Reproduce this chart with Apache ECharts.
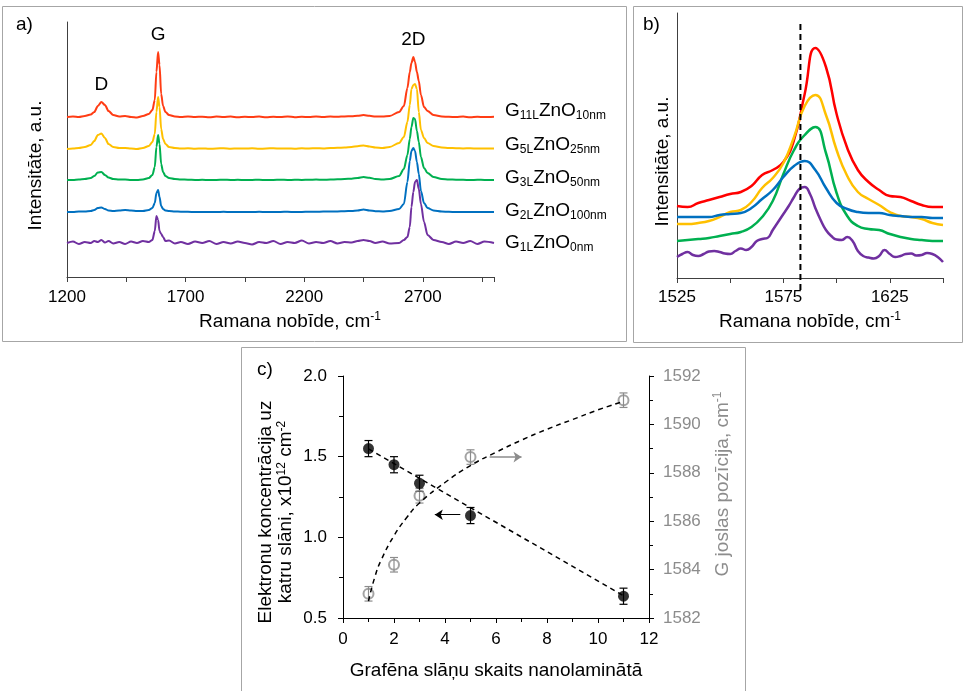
<!DOCTYPE html>
<html>
<head>
<meta charset="utf-8">
<title>Ramana spektri</title>
<script src="https://cdn.jsdelivr.net/npm/echarts@6/dist/echarts.min.js"></script>
<style>
  html, body { margin: 0; padding: 0; background: #fff; }
  #chart { width: 965px; height: 691px; }
</style>
</head>
<body>
<div id="chart"></div>
<script>
// a) pilnie Ramana spektri (nobīde, cm-1)
var aX = [1200, 1225, 1250, 1275, 1300, 1315, 1330, 1345, 1360, 1375,
          1395, 1420, 1445, 1470, 1495, 1520, 1545, 1560, 1570, 1577,
          1584, 1590, 1597, 1605, 1615, 1630, 1655, 1680, 1710, 1740,
          1770, 1800, 1830, 1860, 1890, 1920, 1950, 1980, 2010, 2040,
          2070, 2100, 2130, 2160, 2190, 2220, 2250, 2280, 2310, 2340,
          2370, 2400, 2425, 2450, 2475, 2500, 2530, 2560, 2600, 2620,
          2635, 2645, 2652, 2660, 2667, 2675, 2683, 2692, 2705, 2720,
          2745, 2780, 2810, 2840, 2870, 2900, 2930, 2960, 3000];
var aG11 = [160, 160.5, 160, 161, 162.5, 165, 171, 175, 172, 166,
            162, 160.5, 161, 160, 159.5, 161, 163, 167, 177, 205,
            225, 212, 183, 171, 165, 162, 160.5, 160, 160.5, 160,
            160.3, 159.8, 160.4, 160, 160.5, 159.7, 160.2, 160, 160.4, 159.8,
            160.2, 160, 160.5, 159.8, 160.2, 160, 160.4, 160, 160.5, 160.2,
            160.6, 160.8, 161.2, 162, 161.2, 160.5, 160.5, 161, 165, 171,
            189, 205, 214, 220, 215, 205, 196, 182, 170, 166,
            162, 160.5, 160.2, 160, 160.4, 159.8, 160.2, 160, 160.3];
var aG5 = [128, 128.5, 129, 130, 132, 136, 142, 143.5, 139, 133,
           130, 129, 129, 128.5, 128, 129, 131, 135, 143, 165,
           180, 170, 148, 138, 133, 130, 129, 128.5, 128.7, 128.3,
           128.6, 128.2, 128.5, 128.8, 128.3, 128.6, 128.4, 128.7, 128.2, 128.5,
           128.8, 128.4, 128.6, 128.3, 128.7, 128.5, 128.8, 128.6, 129, 129.2,
           129.5, 130, 130.8, 131.5, 130.5, 129.5, 129, 130, 134, 140,
           155, 172, 188, 192, 193, 188, 165, 147, 139, 134,
           131, 129.5, 129, 128.8, 128.6, 128.7, 128.5, 128.6, 128.4];
var aG3 = [97, 97, 97.5, 98, 99, 101, 104.5, 105, 102, 99.5,
           98, 97.5, 97.5, 97, 97, 97.5, 99, 102, 110, 130,
           142, 133, 113, 105, 101, 99, 98, 97.5, 97.3, 97,
           97.2, 96.9, 97.1, 97.3, 97, 97.2, 96.9, 97.1, 97.2, 97,
           97.1, 97.3, 97, 97.2, 97.1, 97.3, 97.4, 97.2, 97.5, 97.7,
           98, 98.3, 99, 100, 99.2, 98, 97.6, 98, 101, 108,
           122, 138, 150, 159, 158, 146, 135, 120, 109, 104,
           100, 98, 97.5, 97.3, 97.2, 97, 97.2, 97.1, 97];
var aG2 = [65, 65, 65.5, 65.5, 66, 67, 69, 69.5, 68, 66.5,
           66, 66.5, 67, 66.5, 66, 66, 67, 69, 74, 84,
           87, 80, 71, 68, 66.5, 66, 65.5, 65.3, 65.2, 65,
           65.1, 64.9, 65, 65.2, 65, 64.9, 65.1, 65, 65.2, 65,
           65, 65.1, 65.2, 65, 65.1, 65.3, 65.2, 65.4, 65.5, 65.6,
           65.8, 66, 66.5, 67.5, 66.5, 65.8, 65.6, 66, 68, 73,
           95, 116, 126, 129, 126, 115, 103, 86, 74, 69,
           66.5, 65.5, 65.2, 65, 65.1, 64.9, 65.1, 65, 65];
var aG1 = [34, 35.5, 33, 35, 34, 36, 35, 37, 34.5, 36,
           33.5, 35, 33, 35.5, 34, 36, 35, 37, 46, 61,
           57, 46, 43, 40, 36, 36.5, 33.5, 35, 33, 35.5,
           34, 36, 33, 35, 33.5, 35.5, 34, 32.5, 35, 34,
           36, 33, 35, 34, 36.5, 33.5, 35, 34, 36, 33.5,
           35, 34.5, 36, 37, 36, 34, 35.5, 33.5, 34, 37,
           40, 50, 70, 85, 95, 97, 88, 73, 55, 42,
           37, 35, 33, 35.5, 34, 36, 33, 35.5, 34];
var aTickLabels = [1200, 1700, 2200, 2700];
var sampleNames = ['G{s|11L}ZnO{s|10nm}', 'G{s|5L}ZnO{s|25nm}', 'G{s|3L}ZnO{s|50nm}',
                   'G{s|2L}ZnO{s|100nm}', 'G{s|1L}ZnO{s|0nm}'];
var peakNames = ['D', 'G', '2D'];
var peakX = [1345, 1584, 2660];

// b) G joslas tuvplāns
var bX = [1525, 1530, 1535, 1540, 1545, 1550, 1555, 1560, 1565, 1570, 1575, 1580, 1585,
          1590, 1595, 1600, 1605, 1610, 1615, 1620, 1625, 1630, 1635, 1640, 1645, 1650];
var bG11 = [72, 71, 75, 78, 81, 84, 86, 92, 103, 108, 116, 138, 184,
            230, 211, 164, 130, 108, 96, 88, 82, 81, 77, 73, 71, 71];
var bG5 = [54, 54, 55, 57, 61, 66, 68, 76, 90, 100, 115, 141, 172,
           183, 163, 128, 102, 86, 79, 73, 66, 62, 61, 59, 55, 53];
var bG3 = [37, 38, 39, 40, 42, 44, 46, 51, 61, 77, 104, 128, 143,
           151, 125, 85, 62, 52, 49, 48, 44, 41, 39, 38, 37, 37];
var bG2 = [61, 61, 61, 61, 63, 64, 65, 70, 79, 88, 101, 112, 117,
           108, 90, 75, 69, 66, 65, 65, 63, 62, 61, 61, 60, 60];
var bXFine = [1525, 1527.5, 1530, 1532.5, 1535, 1537.5, 1540, 1542.5, 1545, 1547.5,
              1550, 1552.5, 1555, 1557.5, 1560, 1562.5, 1565, 1567.5, 1570, 1572.5,
              1575, 1577.5, 1580, 1582.5, 1585, 1587.5, 1590, 1592.5, 1595, 1597.5,
              1600, 1602.5, 1605, 1607.5, 1610, 1612.5, 1615, 1617.5, 1620, 1622.5,
              1625, 1627.5, 1630, 1632.5, 1635, 1637.5, 1640, 1642.5, 1645, 1647.5, 1650];
var bG1 = [21, 24, 26, 23, 22, 24, 26.5, 27, 26, 24.5,
           24, 27, 29.5, 28, 31, 37, 39, 40, 48, 56,
           64, 72, 81, 89, 91, 84, 70, 58, 48, 42,
           38.5, 38, 41, 37, 27, 22, 20.5, 19.5, 22, 28,
           24, 21, 22, 24, 24.5, 22.5, 23, 25, 24, 21, 16];
var bTickLabels = [1525, 1575, 1625];
var gRefLine = [1583, -12, 255];

// c) elektronu koncentrācija un G joslas pozīcija
var layers = [1, 2, 3, 5, 11];
var carrier = [1.55, 1.45, 1.335, 1.135, 0.635];
var carrierErr = [0.05, 0.05, 0.05, 0.05, 0.05];
var gPos = [1583.0, 1584.2, 1587.05, 1588.65, 1591.0];
var gPosErr = [0.3, 0.3, 0.3, 0.3, 0.3];
var carrierFitX = [1, 11];
var carrierFitY = [1.548, 0.638];
var gFitX = [1, 1.25, 1.5, 2, 2.5, 3, 4, 5, 6, 7, 8, 9, 10, 11];
var gFitY = [1582.7, 1583.7, 1584.4, 1585.4, 1586.15, 1586.75, 1587.6, 1588.3,
             1588.85, 1589.35, 1589.8, 1590.2, 1590.6, 1590.95];

var aColors = ['#ff3c14', '#ffc000', '#00b050', '#0070c0', '#7030a0'];
var bColors = ['#ff0000', '#ffc000', '#00b050', '#0070c0', '#7030a0'];
var labelShift = [-6, -4, -2.5, -1.5, 0];
var FONT = 'Liberation Sans, Arial, sans-serif';
var GREY = '#8c8c8c';

function zip(xs, ys) {
  return xs.map(function (x, i) { return [x, ys[i]]; });
}

var supRich = { sup: { fontSize: 12, lineHeight: 12, verticalAlign: 'top', color: '#000' } };

function errorBars(params, api) {
  var x = api.value(0), y = api.value(1), e = api.value(2);
  var top = api.coord([x, y + e]);
  var bot = api.coord([x, y - e]);
  var st = { stroke: api.visual('color'), lineWidth: 1.2 };
  return {
    type: 'group',
    children: [
      { type: 'line', shape: { x1: top[0], y1: top[1], x2: bot[0], y2: bot[1] }, style: st },
      { type: 'line', shape: { x1: top[0] - 4, y1: top[1], x2: top[0] + 4, y2: top[1] }, style: st },
      { type: 'line', shape: { x1: bot[0] - 4, y1: bot[1], x2: bot[0] + 4, y2: bot[1] }, style: st }
    ]
  };
}

var aSpectra = [aG11, aG5, aG3, aG2, aG1];
var bSpectra = [bG11, bG5, bG3, bG2];

var series = [];

aSpectra.forEach(function (ys, i) {
  var s = {
    type: 'line',
    xAxisIndex: 0,
    yAxisIndex: 0,
    data: zip(aX, ys),
    symbol: 'none',
    smooth: 0.3,
    smoothMonotone: 'x',
    lineStyle: { color: aColors[i], width: 2 },
    itemStyle: { color: aColors[i] },
    endLabel: {
      show: true,
      formatter: function () { return sampleNames[i]; },
      distance: 11,
      offset: [0, labelShift[i]],
      color: '#000',
      fontSize: 19,
      lineHeight: 22,
      rich: { s: { fontSize: 12, lineHeight: 12, verticalAlign: 'bottom', color: '#000' } }
    }
  };
  if (i === 0) {
    s.markPoint = {
      symbol: 'rect',
      symbolSize: 0,
      label: { show: true, position: 'top', distance: 8, formatter: '{b}', color: '#000', fontSize: 19 },
      data: peakNames.map(function (n, k) {
        return { name: n, coord: [peakX[k], ys[aX.indexOf(peakX[k])]] };
      })
    };
  }
  series.push(s);
});

bSpectra.forEach(function (ys, i) {
  series.push({
    type: 'line',
    xAxisIndex: 1,
    yAxisIndex: 1,
    data: zip(bX, ys),
    symbol: 'none',
    smooth: 0.5,
    lineStyle: { color: bColors[i], width: 2.5 },
    itemStyle: { color: bColors[i] }
  });
});
series.push({
  type: 'line',
  xAxisIndex: 1,
  yAxisIndex: 1,
  data: zip(bXFine, bG1),
  symbol: 'none',
  smooth: 0.5,
  lineStyle: { color: bColors[4], width: 2.5 },
  itemStyle: { color: bColors[4] }
});
series.push({
  type: 'custom',
  xAxisIndex: 1,
  yAxisIndex: 1,
  data: [gRefLine],
  encode: { x: 0, y: [1, 2] },
  renderItem: function (params, api) {
    var p1 = api.coord([api.value(0), api.value(1)]);
    var p2 = api.coord([api.value(0), api.value(2)]);
    return {
      type: 'line',
      shape: { x1: p1[0], y1: p1[1], x2: p2[0], y2: p2[1] },
      style: { stroke: '#000', lineWidth: 2, lineDash: [6, 4] }
    };
  },
  z: 5
});

// c)
series.push({
  type: 'line', xAxisIndex: 2, yAxisIndex: 3,
  data: zip(gFitX, gFitY), symbol: 'none', smooth: true,
  lineStyle: { color: '#000', width: 1.5, type: [5, 4] }
});
series.push({
  type: 'line', xAxisIndex: 2, yAxisIndex: 2,
  data: zip(carrierFitX, carrierFitY), symbol: 'none',
  lineStyle: { color: '#000', width: 1.5, type: [5, 4] }
});
series.push({
  type: 'custom', xAxisIndex: 2, yAxisIndex: 3,
  data: layers.map(function (x, i) { return [x, gPos[i], gPosErr[i]]; }),
  encode: { x: 0, y: 1 },
  itemStyle: { color: GREY },
  renderItem: errorBars
});
series.push({
  type: 'scatter', xAxisIndex: 2, yAxisIndex: 3,
  data: zip(layers, gPos), symbol: 'circle', symbolSize: 10,
  itemStyle: { color: 'rgba(255,255,255,0)', borderColor: GREY, borderWidth: 2 },
  markLine: {
    silent: true, symbol: ['none', 'arrow'], symbolSize: 8,
    label: { show: false },
    lineStyle: { color: GREY, width: 1.5, type: 'solid' },
    data: [[{ coord: [5.75, 1588.65] }, { coord: [7.0, 1588.65] }]]
  }
});
series.push({
  type: 'custom', xAxisIndex: 2, yAxisIndex: 2,
  data: layers.map(function (x, i) { return [x, carrier[i], carrierErr[i]]; }),
  encode: { x: 0, y: 1 },
  itemStyle: { color: '#000' },
  renderItem: errorBars
});
series.push({
  type: 'scatter', xAxisIndex: 2, yAxisIndex: 2,
  data: zip(layers, carrier), symbol: 'circle', symbolSize: 11,
  itemStyle: { color: '#000' },
  markLine: {
    silent: true, symbol: ['none', 'arrow'], symbolSize: 8,
    label: { show: false },
    lineStyle: { color: '#000', width: 1, type: 'solid' },
    data: [[{ coord: [4.6, 1.14] }, { coord: [3.6, 1.14] }]]
  }
});

var axisGrey = '#404040';

var option = {
  animation: false,
  backgroundColor: '#fff',
  textStyle: { fontFamily: FONT },
  grid: [
    { left: 67, top: 22, width: 427, height: 255, outerBoundsMode: 'none' },
    { left: 677, top: 13, width: 266, height: 265, outerBoundsMode: 'none' },
    { left: 343, top: 376, width: 306, height: 242, outerBoundsMode: 'none' }
  ],
  xAxis: [
    {
      gridIndex: 0, type: 'value', min: 1200, max: 3000, interval: 250,
      axisLine: { lineStyle: { color: axisGrey } },
      axisTick: { length: 5, lineStyle: { color: axisGrey } },
      splitLine: { show: false },
      axisLabel: {
        fontSize: 17, color: '#000', margin: 12, showMinLabel: true,
        formatter: function (v) { return aTickLabels.indexOf(v) >= 0 ? String(v) : ''; }
      },
      name: 'Ramana nobīde, cm{sup|-1}', nameLocation: 'middle', nameGap: 34,
      nameTextStyle: { fontSize: 19, color: '#000', lineHeight: 22, padding: [0, 0, 0, 19], rich: supRich }
    },
    {
      gridIndex: 1, type: 'value', min: 1525, max: 1650, interval: 25,
      axisLine: { lineStyle: { color: axisGrey } },
      axisTick: { length: 5, lineStyle: { color: axisGrey } },
      splitLine: { show: false },
      axisLabel: {
        fontSize: 17, color: '#000', margin: 11, showMinLabel: true,
        formatter: function (v) { return bTickLabels.indexOf(v) >= 0 ? String(v) : ''; }
      },
      name: 'Ramana nobīde, cm{sup|-1}', nameLocation: 'middle', nameGap: 33,
      nameTextStyle: { fontSize: 19, color: '#000', lineHeight: 22, rich: supRich }
    },
    {
      gridIndex: 2, type: 'value', min: 0, max: 12, interval: 2,
      axisLine: { lineStyle: { color: '#000' } },
      axisTick: { length: 5, lineStyle: { color: '#000' } },
      minorTick: { show: true, splitNumber: 2, length: 4, lineStyle: { color: '#000' } },
      splitLine: { show: false },
      axisLabel: { fontSize: 17, color: '#000', margin: 13, showMinLabel: true, showMaxLabel: true },
      name: 'Grafēna slāņu skaits nanolaminātā', nameLocation: 'middle', nameGap: 43,
      nameTextStyle: { fontSize: 19, color: '#000' }
    }
  ],
  yAxis: [
    {
      gridIndex: 0, type: 'value', min: 0, max: 255,
      axisLine: { show: true, lineStyle: { color: axisGrey } },
      axisTick: { show: false }, axisLabel: { show: false }, splitLine: { show: false },
      name: 'Intensitāte, a.u.', nameLocation: 'middle', nameGap: 22, nameRotate: 90,
      nameTextStyle: { fontSize: 19, color: '#000', padding: [0, 32, 0, 0] }
    },
    {
      gridIndex: 1, type: 'value', min: 0, max: 265,
      axisLine: { show: true, lineStyle: { color: axisGrey } },
      axisTick: { show: false }, axisLabel: { show: false }, splitLine: { show: false },
      name: 'Intensitāte, a.u.', nameLocation: 'middle', nameGap: 5, nameRotate: 90,
      nameTextStyle: { fontSize: 19, color: '#000', padding: [0, 32, 0, 0] }
    },
    {
      gridIndex: 2, type: 'value', min: 0.5, max: 2.0, interval: 0.5, position: 'left',
      axisLine: { show: true, lineStyle: { color: '#000' } },
      axisTick: { show: true, length: 5, lineStyle: { color: '#000' } },
      minorTick: { show: true, splitNumber: 2, length: 4, lineStyle: { color: '#000' } },
      splitLine: { show: false },
      axisLabel: { fontSize: 17, color: '#000', margin: 16, formatter: function (v) { return v.toFixed(1); } },
      name: 'Elektronu koncentrācija uz\nkatru slāni, x10{sup|12} cm{sup|-2}',
      nameLocation: 'middle', nameGap: 47, nameRotate: 90,
      nameTextStyle: { fontSize: 19, color: '#000', lineHeight: 20, padding: [0, 30, 0, 0], rich: supRich }
    },
    {
      gridIndex: 2, type: 'value', min: 1582, max: 1592, interval: 2, position: 'right',
      axisLine: { show: true, lineStyle: { color: '#000' } },
      axisTick: { show: true, length: 5, lineStyle: { color: '#000' } },
      minorTick: { show: true, splitNumber: 2, length: 4, lineStyle: { color: '#000' } },
      splitLine: { show: false },
      axisLabel: { fontSize: 17, color: GREY, margin: 14, formatter: function (v) { return String(v); } },
      name: 'G joslas pozīcija, cm{sup|-1}',
      nameLocation: 'middle', nameGap: 63, nameRotate: 90,
      nameTextStyle: {
        fontSize: 19, color: GREY, lineHeight: 22, padding: [0, 0, 0, 26],
        rich: { sup: { fontSize: 12, lineHeight: 12, verticalAlign: 'top', color: GREY } }
      }
    }
  ],
  graphic: [
    { type: 'rect', z: -1, shape: { x: 2.5, y: 6.5, width: 624, height: 335 }, style: { fill: 'none', stroke: '#a6a6a6', lineWidth: 1 } },
    { type: 'rect', z: -1, shape: { x: 633.5, y: 6.5, width: 329, height: 336 }, style: { fill: 'none', stroke: '#a6a6a6', lineWidth: 1 } },
    { type: 'rect', z: -1, shape: { x: 241.5, y: 347.5, width: 504, height: 360 }, style: { fill: 'none', stroke: '#a6a6a6', lineWidth: 1 } },
    { type: 'text', left: 16, top: 15, style: { text: 'a)', fontSize: 19, fill: '#000', font: '19px ' + FONT } },
    { type: 'text', left: 643, top: 15, style: { text: 'b)', fontSize: 19, fill: '#000', font: '19px ' + FONT } },
    { type: 'text', left: 257, top: 360, style: { text: 'c)', fontSize: 19, fill: '#000', font: '19px ' + FONT } }
  ],
  series: series
};

var chart = echarts.init(document.getElementById('chart'), null, { renderer: 'canvas' });
chart.setOption(option);
</script>
</body>
</html>
